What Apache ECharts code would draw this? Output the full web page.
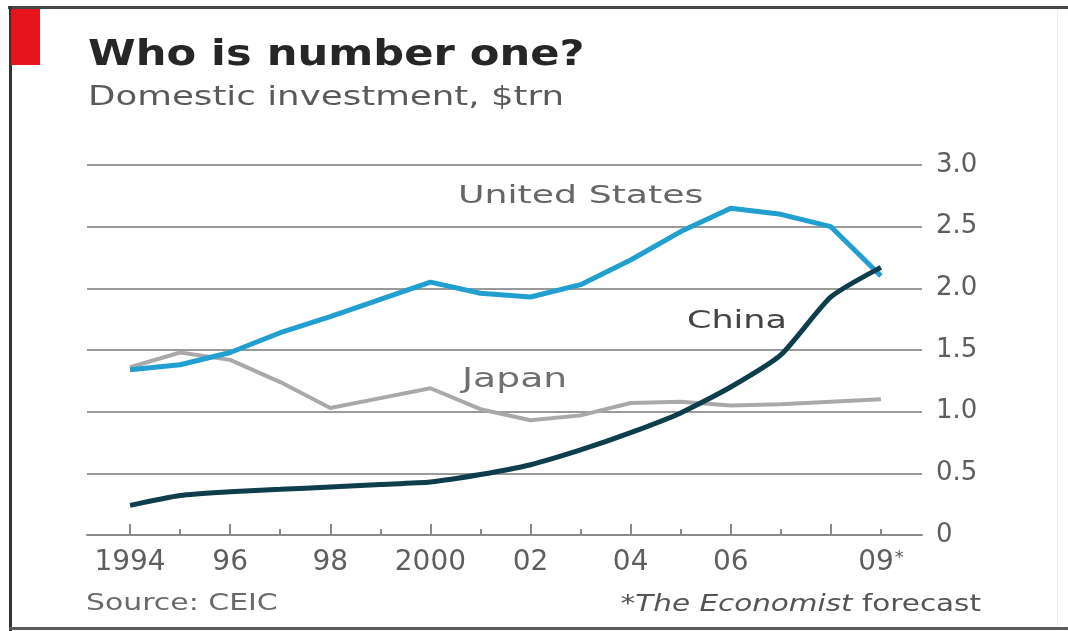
<!DOCTYPE html>
<html>
<head>
<meta charset="utf-8">
<title>Who is number one?</title>
<script src="https://cdn.jsdelivr.net/npm/echarts@6/dist/echarts.min.js"></script>
<style>
  html, body { margin: 0; padding: 0; background: #fff; }
  #chart { width: 1068px; height: 631px; }
</style>
</head>
<body>
<div id="chart"></div>
<script>
// values, $trn
const years = [1994, 1995, 1996, 1997, 1998, 1999, 2000, 2001, 2002, 2003, 2004, 2005, 2006, 2007, 2008, 2009];
const usValues = [1.34, 1.38, 1.48, 1.64, 1.77, 1.91, 2.05, 1.96, 1.93, 2.03, 2.23, 2.46, 2.65, 2.60, 2.50, 2.10];
const japanValues = [1.36, 1.48, 1.42, 1.24, 1.03, 1.11, 1.19, 1.02, 0.93, 0.97, 1.07, 1.08, 1.05, 1.06, 1.08, 1.10];
const chinaValues = [0.24, 0.32, 0.35, 0.37, 0.39, 0.41, 0.43, 0.49, 0.57, 0.69, 0.83, 0.99, 1.20, 1.46, 1.93, 2.17];

const majorTickYears = [1994, 1996, 1998, 2000, 2002, 2004, 2006, 2008];
const minorTickYears = [1995, 1997, 1999, 2001, 2003, 2005, 2007, 2009];
const labelYears = [1994, 1996, 1998, 2000, 2002, 2004, 2006, 2009];
const labelTexts = ['1994', '96', '98', '2000', '02', '04', '06', '09{s|*}'];

const FONT = '"DejaVu Sans", Verdana, sans-serif';
const GRID_COLOR = '#9a9a9a';
const LABEL_COLOR = '#5e5e5e';

function pairs(values) {
  return years.map((y, i) => [y, values[i]]);
}

function textEl(text, x, y, opts) {
  return {
    type: 'text',
    x: x,
    y: y,
    scaleX: opts.scaleX || 1,
    z: 10,
    style: {
      text: text,
      fill: opts.color || LABEL_COLOR,
      fontFamily: FONT,
      fontSize: opts.size,
      fontWeight: opts.weight || 'normal',
      textAlign: opts.align || 'left',
      textVerticalAlign: 'middle',
      rich: opts.rich,
    },
  };
}

const myChart = echarts.init(document.getElementById('chart'));

const axisBase = {
  type: 'value',
  min: 1993.14,
  max: 2009.82,
  position: 'bottom',
  splitLine: { show: false },
};

const option = {
  backgroundColor: '#fff',
  animation: false,
  grid: {
    left: 87,
    right: 146,
    top: 165,
    bottom: 96,
  },
  xAxis: [
    Object.assign({}, axisBase, {
      axisLine: { show: true, lineStyle: { color: '#8a8a8a', width: 2 } },
      axisTick: {
        show: true,
        inside: true,
        length: 11,
        customValues: majorTickYears,
        lineStyle: { color: '#8a8a8a', width: 2 },
      },
      axisLabel: {
        show: true,
        customValues: labelYears,
        margin: 14,
        color: LABEL_COLOR,
        fontFamily: FONT,
        fontSize: 28,
        formatter: (value) => {
          const idx = labelYears.indexOf(Math.round(value));
          return idx >= 0 ? labelTexts[idx] : '';
        },
        rich: {
          s: { fontSize: 18, color: LABEL_COLOR, fontFamily: FONT, verticalAlign: 'top', padding: [0, 0, 10, 1] },
        },
      },
    }),
    Object.assign({}, axisBase, {
      axisLine: { show: false },
      axisTick: {
        show: true,
        inside: true,
        length: 6,
        customValues: minorTickYears,
        lineStyle: { color: '#8a8a8a', width: 2 },
      },
      axisLabel: { show: false },
    }),
  ],
  yAxis: {
    type: 'value',
    position: 'right',
    min: 0,
    max: 3,
    interval: 0.5,
    axisLine: { show: false },
    axisTick: { show: false },
    splitLine: {
      show: true,
      lineStyle: { color: GRID_COLOR, width: 2 },
    },
    axisLabel: {
      margin: 14,
      color: LABEL_COLOR,
      fontFamily: FONT,
      fontSize: 26,
      formatter: (value) => (value === 0 ? '0' : value.toFixed(1)),
    },
  },
  series: [
    {
      name: 'Japan',
      type: 'line',
      showSymbol: false,
      symbol: 'none',
      data: pairs(japanValues),
      lineStyle: { color: '#a9a9a9', width: 4 },
      z: 2,
    },
    {
      name: 'United States',
      type: 'line',
      showSymbol: false,
      symbol: 'none',
      data: pairs(usValues),
      lineStyle: { color: '#219fd0', width: 5 },
      z: 3,
    },
    {
      name: 'China',
      type: 'line',
      showSymbol: false,
      symbol: 'none',
      smooth: 0.2,
      data: pairs(chinaValues),
      lineStyle: { color: '#0e3d4c', width: 5 },
      z: 4,
    },
  ],
  graphic: [
    // frame
    { type: 'rect', shape: { x: 8, y: 6, width: 1060, height: 3 }, style: { fill: '#474747' } },
    { type: 'rect', shape: { x: 9, y: 6, width: 3, height: 625 }, style: { fill: '#333' } },
    { type: 'rect', shape: { x: 9, y: 627, width: 1059, height: 3 }, style: { fill: '#5a5a5a' } },
    { type: 'rect', shape: { x: 1057, y: 9, width: 1, height: 618 }, style: { fill: '#eeeeee' } },
    { type: 'rect', shape: { x: 11, y: 9, width: 29, height: 56 }, style: { fill: '#e8141b' } },
    // titles
    textEl('Who is number one?', 88, 56, { size: 36, weight: 'bold', color: '#262626', scaleX: 1.2 }),
    textEl('Domestic investment, $trn', 88, 98, { size: 26, color: '#5a5a5a', scaleX: 1.37 }),
    // series labels
    textEl('United States', 458, 196, { size: 25, color: '#666', scaleX: 1.45 }),
    textEl('China', 687, 321, { size: 25, color: '#444', scaleX: 1.4 }),
    textEl('Japan', 462, 380, { size: 26, color: '#707070', scaleX: 1.45 }),
    // footer
    textEl('Source: CEIC', 86, 604, { size: 23, color: '#6a6a6a', scaleX: 1.3 }),
    textEl('*{i|The Economist} forecast', 981, 605, {
      size: 23,
      color: '#555',
      align: 'right',
      scaleX: 1.28,
      rich: { i: { fontStyle: 'italic', fontFamily: FONT, fontSize: 23, fill: '#555' } },
    }),
  ],
};

myChart.setOption(option);
</script>
</body>
</html>
